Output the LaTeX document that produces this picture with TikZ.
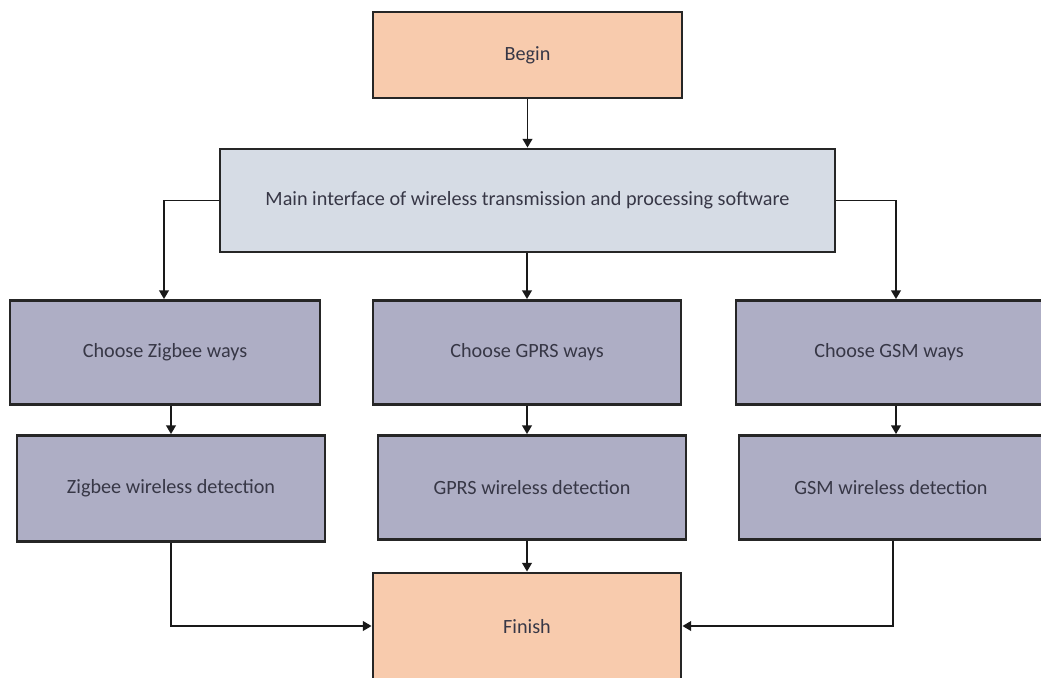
\documentclass[tikz,border=0pt]{standalone}
\usepackage{fontspec}
\setmainfont{Carlito}
\usetikzlibrary{arrows.meta}
\definecolor{peach}{RGB}{248,203,173}
\definecolor{paleblue}{RGB}{214,220,229}
\definecolor{greyblue}{RGB}{174,174,197}
\definecolor{txt}{RGB}{55,55,70}
\tikzset{
  box/.style={draw=black!85, line width=1.6pt, rectangle, inner sep=0pt, font=\fontsize{11.5}{13}\selectfont, text=txt},
  startbox/.style={box, fill=peach},
  mainbox/.style={box, fill=paleblue},
  waybox/.style={box, fill=greyblue},
  conn/.style={line width=1.1pt, draw=black!90, -{Triangle[length=5pt,width=5.5pt]}}
}
\begin{document}
\begin{tikzpicture}[x=0.02cm,y=-0.02cm]
\useasboundingbox (0,0) rectangle (1041,677);
\clip (0,0) rectangle (1041,677);
\node[startbox, minimum width=309*0.02cm, minimum height=86*0.02cm] (begin) at (527.5,55) {Begin};
\node[mainbox, minimum width=615*0.02cm, minimum height=103*0.02cm] (main) at (527.5,200.5) {Main interface of wireless transmission and processing software};
\node[waybox, minimum width=310*0.02cm, minimum height=104*0.02cm] (cz) at (165,352.5) {Choose Zigbee ways};
\node[waybox, minimum width=308*0.02cm, minimum height=104*0.02cm] (cg) at (527,352.5) {Choose GPRS ways};
\node[waybox, minimum width=306*0.02cm, minimum height=104*0.02cm] (cs) at (889,352.5) {Choose GSM ways};
\node[waybox, minimum width=308*0.02cm, minimum height=106*0.02cm] (zd) at (171,488.5) {Zigbee wireless detection};
\node[waybox, minimum width=308*0.02cm, minimum height=104*0.02cm] (gd) at (532,487.5) {GPRS wireless detection};
\node[waybox, minimum width=304*0.02cm, minimum height=104*0.02cm] (sd) at (891,487.5) {GSM wireless detection};
\node[startbox, minimum width=308*0.02cm, minimum height=108*0.02cm] (finish) at (527,627) {Finish};

\coordinate (mz) at (164,200.5);
\coordinate (ms) at (896,200.5);
\coordinate (zf) at (171,626);
\coordinate (sf) at (893,626);

\draw[conn] (begin.south) -- (main.north);
\draw[conn] (main.west) -- (mz) -- (mz |- cz.north);
\draw[conn] (main.south -| cg.north) -- (cg.north);
\draw[conn] (main.east) -- (ms) -- (ms |- cs.north);
\draw[conn] (cz.south -| zd.north) -- (zd.north);
\draw[conn] (cg.south) -- (cg.south |- gd.north);
\draw[conn] (cs.south -| 896,0) -- (896,0 |- sd.north);
\draw[conn] (zd.south) -- (zf) -- (finish.west |- zf);
\draw[conn] (gd.south -| cg.south) -- (cg.south |- finish.north);
\draw[conn] (sf |- sd.south) -- (sf) -- (finish.east |- sf);
\end{tikzpicture}
\end{document}
